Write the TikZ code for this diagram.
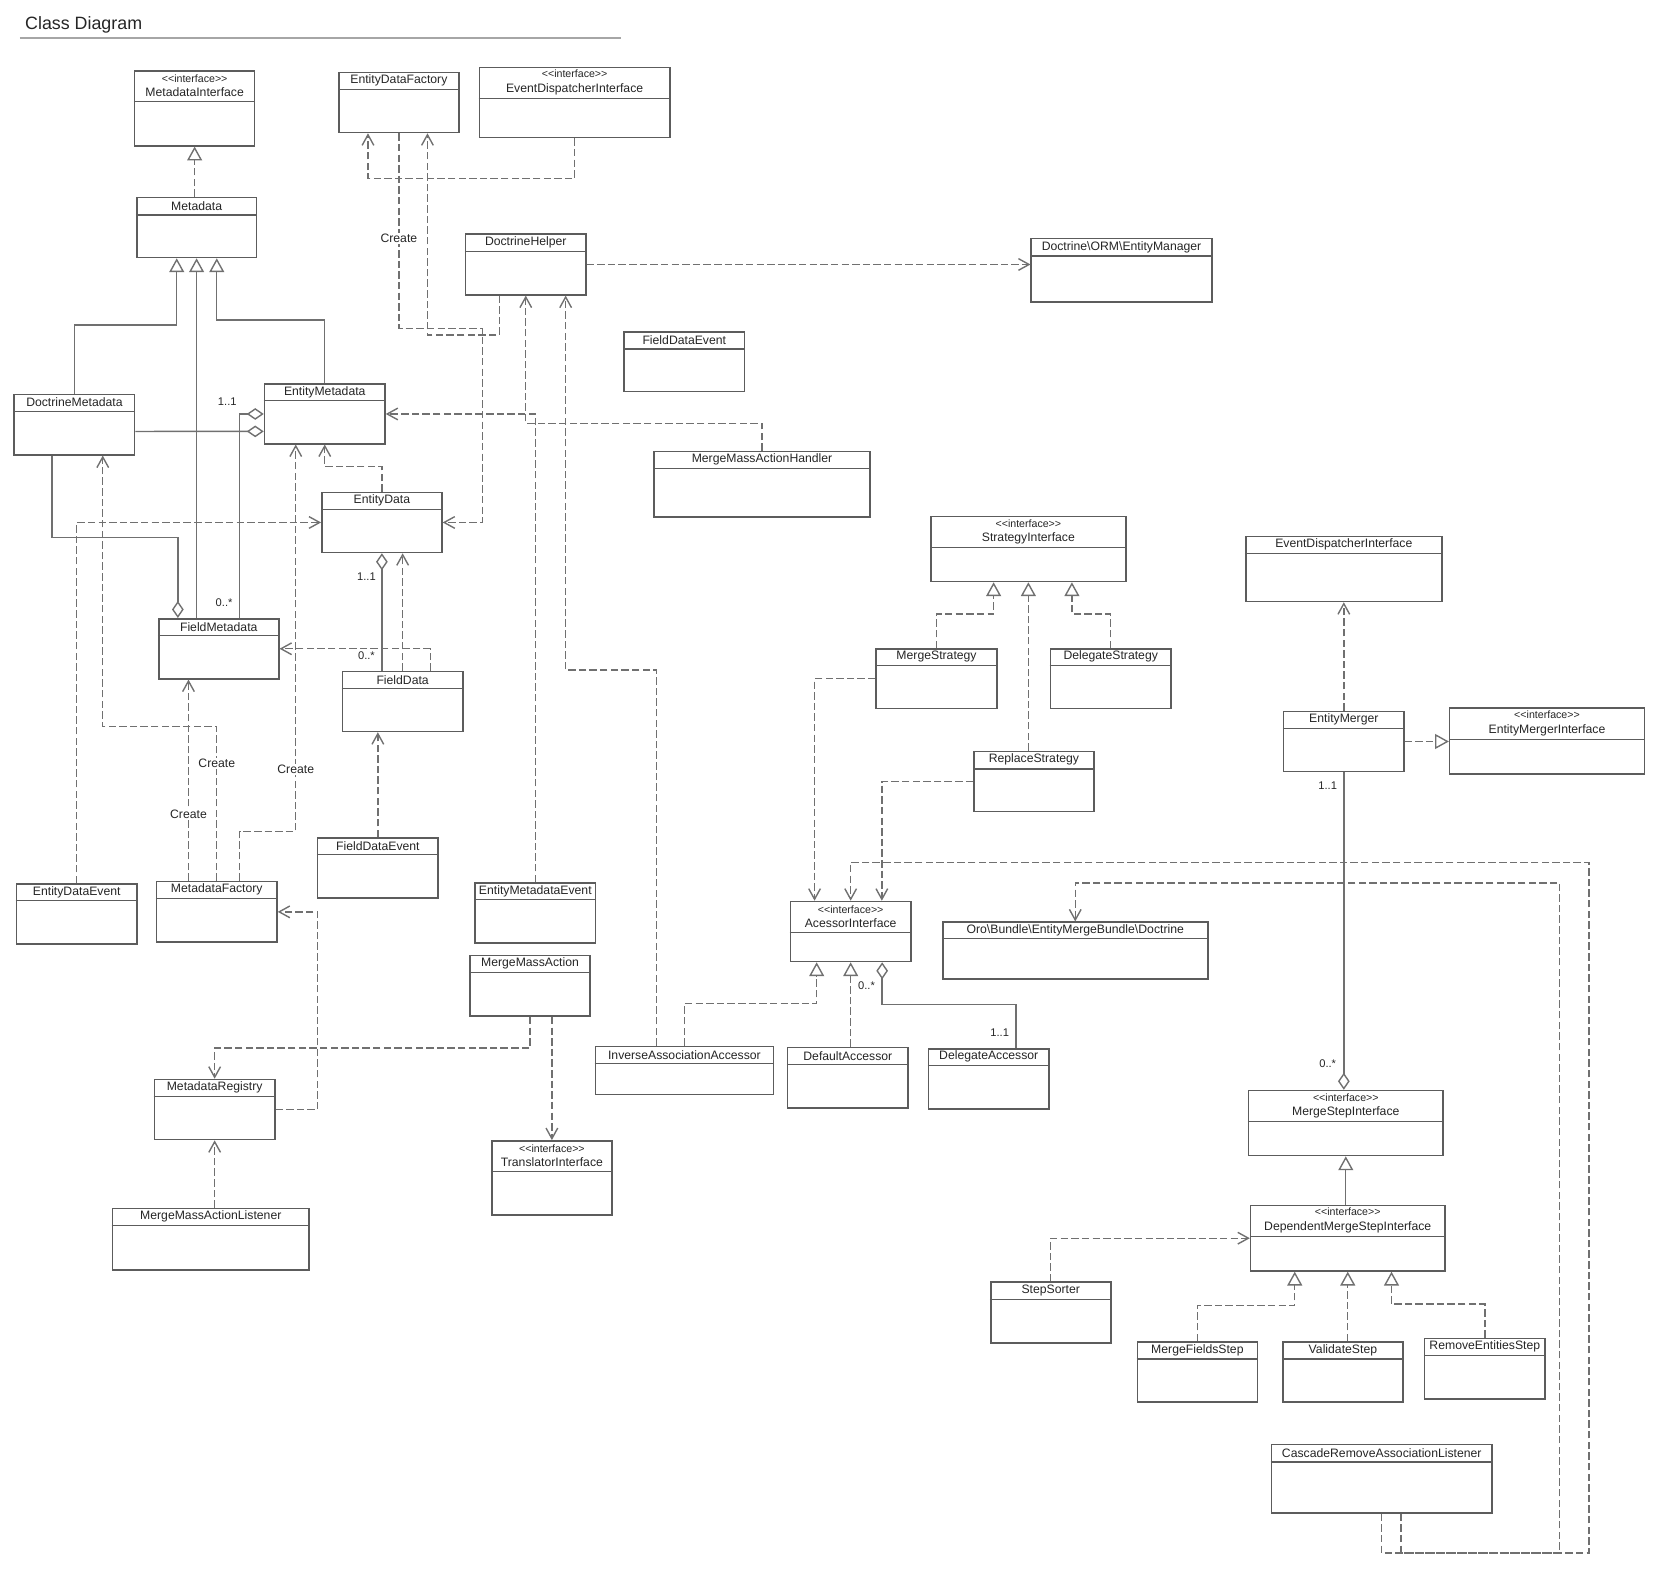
\documentclass[tikz,border=0pt]{standalone}
\usepackage{fontspec}
\newfontfamily\umlfont{Liberation Sans}
\usetikzlibrary{arrows.meta}
\definecolor{umlline}{HTML}{5C5C5C}
\definecolor{umlconn}{HTML}{707070}
\definecolor{umltext}{HTML}{262626}

% class box: id, x, y, width, height, header height, name
\newcommand{\umlclass}[7]{%
  \node[cls, minimum width=#4pt, minimum height=#5pt] (#1) at (#2,#3) {};
  \draw[sep] ([yshift=-#6pt]#1.north west) -- ([yshift=-#6pt]#1.north east);
  \node[hdr] (#1-name) at ([yshift=-#6pt/2]#1.north) {#7};}
\newcommand{\stereo}[1]{{\fontsize{10}{12}\selectfont<<interface>>}\\#1}

\begin{document}
\begin{tikzpicture}[
        x=1pt, y=-1pt,
        cls/.style={draw=umlline, line width=1.5pt, fill=white, anchor=north west, inner sep=0pt},
        sep/.style={draw=umlline, line width=1.3pt},
        hdr/.style={font=\umlfont\fontsize{11.5}{13.5}\selectfont, text=umltext, align=center, inner sep=0pt},
        lab/.style={font=\umlfont\fontsize{11.5}{13.5}\selectfont, text=umltext, fill=white, inner sep=1pt},
        mult/.style={font=\umlfont\fontsize{10.5}{12}\selectfont, text=umltext, inner sep=0pt},
        conn/.style={draw=umlconn, line width=1.3pt},
        dep/.style={conn, dash pattern=on 7pt off 3pt, -{Straight Barb[length=10pt, width=11pt]}},
        real/.style={conn, dash pattern=on 7pt off 3pt, -{Triangle[open, length=13pt, width=14pt]}},
        gen/.style={conn, -{Triangle[open, length=13pt, width=14pt]}},
        agg/.style={conn, -{Diamond[open, length=16pt, width=11pt]}}
    ]

    \path[fill=white, use as bounding box] (0,0) rectangle (1567.6,1483.8);

    % Title
    \node[anchor=base west, font=\umlfont\fontsize{16.8}{20}\selectfont, text=umltext, inner sep=0pt] (title) at (23.5,27.6) {Class Diagram};
    \draw[gray!70, line width=2pt] (18.8,35.5) -- (584.2,35.5);

    % Classes
    \umlclass{mdi}{126}{65.9}{113}{70.6}{29.8}{\stereo{MetadataInterface}}
    \umlclass{edf}{318.3}{67.5}{113}{56.5}{16.6}{EntityDataFactory}
    \umlclass{edi}{450.7}{62.8}{179.1}{65.9}{29.8}{\stereo{EventDispatcherInterface}}
    \umlclass{md}{128}{185.2}{112.7}{56.5}{17.2}{Metadata}
    \umlclass{dh}{437.7}{219.7}{113.1}{57.1}{17.3}{DoctrineHelper}
    \umlclass{em}{970.2}{223.8}{169.9}{59.6}{17.2}{Doctrine\textbackslash ORM\textbackslash EntityManager}
    \umlclass{fdevA}{586.8}{311.7}{113.4}{56.2}{16.9}{FieldDataEvent}
    \umlclass{dm}{12.7}{370.5}{113.3}{56.9}{17}{DoctrineMetadata}
    \umlclass{emd}{248.3}{361}{113.4}{56}{16.2}{EntityMetadata}
    \umlclass{mmah}{615.2}{424.3}{203}{61.5}{16.9}{MergeMassActionHandler}
    \umlclass{ed}{302.3}{462.9}{113}{56.5}{16.9}{EntityData}
    \umlclass{si}{875.8}{485.5}{183.3}{61.2}{30.1}{\stereo{StrategyInterface}}
    \umlclass{ediB}{1172.1}{504.3}{184.7}{61.2}{16.9}{EventDispatcherInterface}
    \umlclass{fm}{148.7}{581.8}{113}{56.5}{16.7}{FieldMetadata}
    \umlclass{mst}{824.2}{610.1}{113.6}{56.2}{16.6}{MergeStrategy}
    \umlclass{dst}{988.2}{610.1}{113.6}{56.2}{16.6}{DelegateStrategy}
    \umlclass{fd}{321.7}{631.4}{113.3}{56.5}{17}{FieldData}
    \umlclass{emg}{1207.8}{669.1}{113.3}{56.5}{16.6}{EntityMerger}
    \umlclass{emi}{1364.1}{665.9}{183.3}{61.9}{30.5}{\stereo{EntityMergerInterface}}
    \umlclass{rst}{916.2}{706.7}{113}{56.5}{17.3}{ReplaceStrategy}
    \umlclass{fdevB}{298.3}{788}{113.4}{56.5}{16.7}{FieldDataEvent}
    \umlclass{mf}{146.7}{829.2}{113.3}{57.1}{16.9}{MetadataFactory}
    \umlclass{ede}{14.7}{831.4}{113.6}{56.5}{16.6}{EntityDataEvent}
    \umlclass{eme}{446.7}{830.4}{113.1}{56.5}{16.7}{EntityMetadataEvent}
    \umlclass{ai}{743.5}{848}{113.3}{56.5}{29.8}{\stereo{AcessorInterface}}
    \umlclass{oro}{886.8}{867.5}{249.6}{53.3}{16.3}{Oro\textbackslash Bundle\textbackslash EntityMergeBundle\textbackslash Doctrine}
    \umlclass{mma}{441.7}{898.8}{113.1}{57.2}{16.7}{MergeMassAction}
    \umlclass{iaa}{559.8}{984.5}{167.7}{45.2}{17}{InverseAssociationAccessor}
    \umlclass{da}{740.8}{985.5}{113.4}{56.8}{16.9}{DefaultAccessor}
    \umlclass{dla}{873.5}{986.7}{113.3}{56.5}{16.3}{DelegateAccessor}
    \umlclass{mr}{144.7}{1015.6}{113.3}{56.5}{16.9}{MetadataRegistry}
    \umlclass{msi}{1174.8}{1026}{183}{61.2}{29.8}{\stereo{MergeStepInterface}}
    \umlclass{ti}{462.2}{1073.4}{113.3}{69.6}{29.5}{\stereo{TranslatorInterface}}
    \umlclass{mmal}{105.2}{1137.1}{185}{57.7}{16.9}{MergeMassActionListener}
    \umlclass{dmsi}{1176.7}{1134.2}{182.9}{61.6}{29.9}{\stereo{DependentMergeStepInterface}}
    \umlclass{ss}{932}{1206.4}{113}{57.2}{17}{StepSorter}
    \umlclass{mfs}{1070.1}{1262.6}{113}{56.5}{16.7}{MergeFieldsStep}
    \umlclass{vs}{1207.1}{1262.6}{113}{56.5}{16.7}{ValidateStep}
    \umlclass{res}{1340.5}{1259.5}{113.4}{56.8}{16.6}{RemoveEntitiesStep}
    \umlclass{cral}{1196.3}{1359.3}{207.7}{64.3}{17.2}{CascadeRemoveAssociationListener}

    % Generalization
    \draw[gen] (dm.north) -- ++(0,-64.5) -| ([xshift=-18.7pt]md.south);
    \draw[gen] (md.south |- fm.north) -- (md.south);
    \draw[gen] (emd.north) -- ++(0,-59.7) -| ([xshift=19pt]md.south);
    \draw[gen] (msi.south |- dmsi.north) -- (msi.south);

    % Realization
    \draw[real] (mdi.south |- md.north) -- (mdi.south);
    \draw[real] (mst.north) -- ++(0,-32) -| ([xshift=-32.7pt]si.south);
    \draw[real] (dst.north) -- ++(0,-32) -| ([xshift=41pt]si.south);
    \draw[real] (si.south |- rst.north) -- (si.south);
    \draw[real] (emg.east) -- (emg.east -| emi.west);
    \draw[real] (iaa.north) -- ++(0,-39.5) -| ([xshift=-32pt]ai.south);
    \draw[real] (ai.south |- da.north) -- (ai.south);
    \draw[real] (mfs.north) -- ++(0,-33.6) -| ([xshift=-49.9pt]dmsi.south);
    \draw[real] (dmsi.south |- vs.north) -- (dmsi.south);
    \draw[real] (res.north) -- ++(0,-31.7) -| ([xshift=41.2pt]dmsi.south);

    % Dependency
    \draw[dep] (edi.south) -- ++(0,37.7) -| ([xshift=-29.1pt]edf.south);
    \draw[dep] (edf.south) -- node[lab, pos=0.54] {Create} ++(0,183.6) -- ++(78.5,0) |- (ed.east);
    \draw[dep] ([xshift=-24.95pt]dh.south) -- ++(0,37.1) -| ([xshift=26.9pt]edf.south);
    \draw[dep] (dh.east) -- (dh.east -| em.west);
    \draw[dep] (mmah.north) -- ++(0,-25.8) -| (dh.south);
    \draw[dep] ([xshift=-26.15pt]iaa.north) -- ++(0,-353.7) -| ([xshift=37.55pt]dh.south);
    \draw[dep] (eme.north) |- (emd.east);
    \draw[dep] (ed.north) -- ++(0,-23.6) -| (emd.south);
    \draw[dep] (ede.north) |- (ed.west);
    \draw[dep] (fd.north) -- (fd.north |- ed.south);
    \draw[dep] ([xshift=26pt]fd.north) |- (fm.east);
    \draw[dep] (fdevB.north) -- (fdevB.north |- fd.south);
    \draw[dep] (mf.north) -- node[lab, pos=0.76] {Create} ++(0,-145.1) -| ([xshift=26.65pt]dm.south);
    \draw[dep] ([xshift=-26.65pt]mf.north) -- node[lab, pos=0.33] {Create} ([xshift=-28.5pt]fm.south);
    \draw[dep] ([xshift=21.65pt]mf.north) -- ++(0,-46.5) -| node[lab, pos=0.58] {Create} ([xshift=-27.3pt]emd.south);
    \draw[dep] (mr.east) -- ++(39.7,0) |- (mf.east);
    \draw[dep] (mma.south) -- ++(0,29.2) -| (mr.north);
    \draw[dep] (ti.north |- mma.south) -- (ti.north);
    \draw[dep] (mmal.north -| mr.south) -- (mr.south);
    \draw[dep] (mst.west) -| ([xshift=-34pt]ai.north);
    \draw[dep] (rst.west) -| ([xshift=29.35pt]ai.north);
    \draw[dep] (cral.south) -- ++(0,37.1) -- ++(195,0) -- ++(0,-650.4) -| (ai.north);
    \draw[dep] ([xshift=18pt]cral.south) -- ++(0,37.1) -- ++(149.6,0) -- ++(0,-630.9) -| (oro.north);
    \draw[dep] (ss.north) |- (dmsi.west);
    \draw[dep] (emg.north) -- (ediB.south);

    % Aggregation
    \draw[agg] ([xshift=19.8pt]fm.north) |- (emd.west);
    \draw[agg] ([yshift=-6.5pt]dm.east) -- ([yshift=-16.4pt]emd.west);
    \draw[agg] ([xshift=-21pt]dm.south) -- ++(0,76.9) -| ([xshift=-38.5pt]fm.north);
    \draw[agg] (ed.south |- fd.north) -- (ed.south);
    \draw[agg] ([xshift=25.65pt]dla.north) -- ++(0,-40.8) -| ([xshift=29.65pt]ai.south);
    \draw[agg] (emg.south) -- (emg.south |- msi.north);

    % Multiplicities
    \node[mult] (m1) at (214,377.8) {1..1};
    \node[mult] (m2) at (211,567) {0..*};
    \node[mult] (m3) at (345,542.9) {1..1};
    \node[mult] (m4) at (345,617.3) {0..*};
    \node[mult] (m5) at (815.8,928.3) {0..*};
    \node[mult] (m6) at (941.2,972.6) {1..1};
    \node[mult] (m7) at (1250,740) {1..1};
    \node[mult] (m8) at (1250,1001.8) {0..*};

\end{tikzpicture}
\end{document}
